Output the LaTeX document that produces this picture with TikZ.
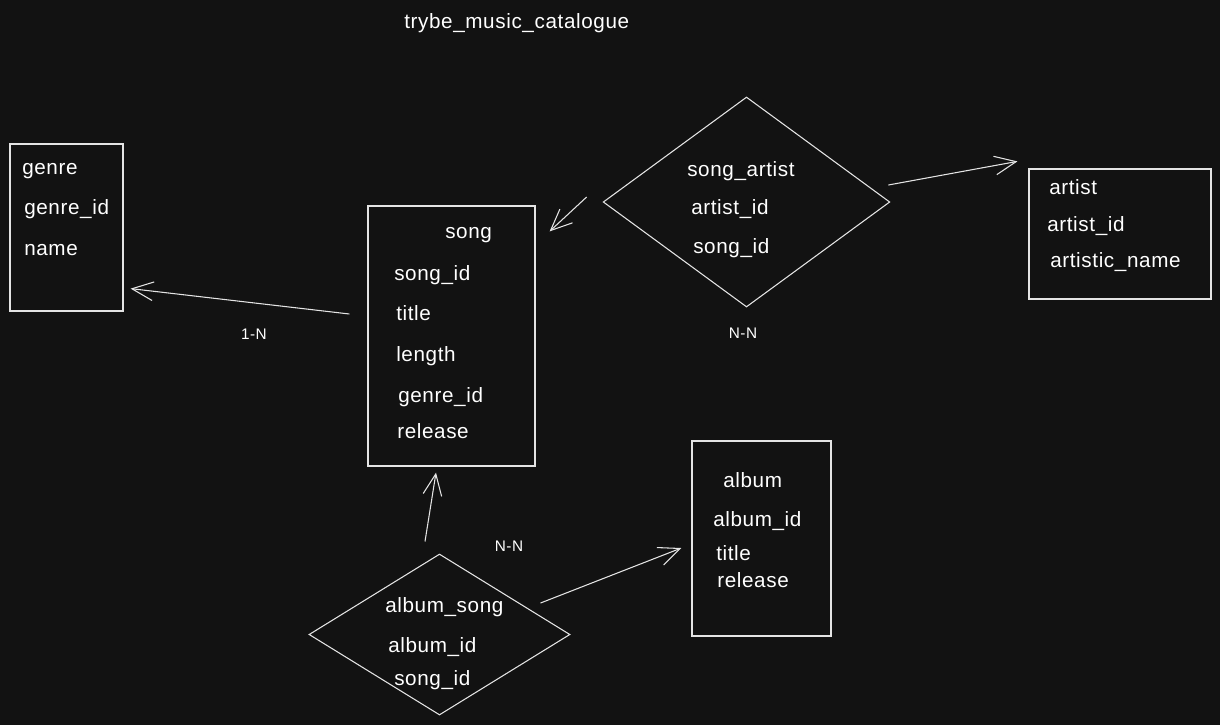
\documentclass[tikz,border=0pt]{standalone}
\usepackage{fontspec}
\setmainfont{Liberation Sans}[LetterSpace=3]
\usetikzlibrary{arrows.meta,shapes.geometric,fit,calc}
\definecolor{canvas}{HTML}{121212}
\definecolor{chalk}{HTML}{E4E4E4}
\tikzset{
  tablebox/.style={draw=chalk, line width=0.9pt, inner sep=0pt},
  relation/.style={diamond, draw=chalk, line width=0.8pt, inner sep=0pt},
  field/.style={anchor=west, text=white, inner sep=0pt,
    font=\fontsize{15.5}{18}\selectfont, text height=2.2ex, text depth=0.45ex},
  card/.style={text=white, inner sep=0pt, font=\fontsize{11.5}{14}\selectfont},
  link/.style={draw=chalk, line width=0.8pt,
    -{Straight Barb[length=16pt,width=14pt,line width=0.8pt]}},
}
\begin{document}
\begin{tikzpicture}[x=0.75pt,y=-0.75pt]
\fill[canvas] (0,0) rectangle (1220,725);
\node[field] (title) at (404,22) {trybe\_music\_catalogue};

% tables
\node[tablebox, fit={(10,144) (123,311)}] (genre) {};
\node[field] (genreT) at (22,168) {genre};
\node[field] (genreA) at (24,208) {genre\_id};
\node[field] (genreB) at (24,249) {name};

\node[tablebox, fit={(368,206) (535,466)}] (song) {};
\node[field] (songT) at (445,232) {song};
\node[field] (songA) at (394,274) {song\_id};
\node[field] (songB) at (396,314) {title};
\node[field] (songC) at (396,355) {length};
\node[field] (songD) at (398,396) {genre\_id};
\node[field] (songE) at (397,432) {release};

\node[tablebox, fit={(1029,169) (1211,299)}] (artist) {};
\node[field] (artistT) at (1049,188) {artist};
\node[field] (artistA) at (1047,225) {artist\_id};
\node[field] (artistB) at (1050,261) {artistic\_name};

\node[tablebox, fit={(692,441) (831,636)}] (album) {};
\node[field] (albumT) at (723,481) {album};
\node[field] (albumA) at (713,520) {album\_id};
\node[field] (albumB) at (716,554) {title};
\node[field] (albumC) at (717,581) {release};

% relations
\node[relation, minimum width=215pt, minimum height=157.5pt] (songartist) at (746.5,202) {};
\node[field] (saT) at (687,170) {song\_artist};
\node[field] (saA) at (691,208) {artist\_id};
\node[field] (saB) at (693,247) {song\_id};

\node[relation, minimum width=195.75pt, minimum height=120.75pt] (albumsong) at (439.5,634.5) {};
\node[field] (asT) at (385,606) {album\_song};
\node[field] (asA) at (388,646) {album\_id};
\node[field] (asB) at (394,679) {song\_id};

% connectors
\draw[link] ($(song.west)+(-18,-22)$) -- ($(genre.south east)+(7,-23)$);
\draw[link] ($(songartist.west)+(-16,-5)$) -- ($(song.north east)+(14,26)$);
\draw[link] ($(songartist.east)+(-2,-17)$) -- ($(artist.north west)+(-11,-7)$);
\draw[link] ($(albumsong.north)+(-14.5,-12)$) -- ($(song.south)+(-15.5,6)$);
\draw[link] ($(albumsong.east)+(-30,-31.5)$) -- ($(album.west)+(-10,9.5)$);

\node[card] (genreCard) at (254,334) {1-N};
\node[card] (artistCard) at (743,333) {N-N};
\node[card] (albumCard) at (509,546) {N-N};
\end{tikzpicture}
\end{document}
